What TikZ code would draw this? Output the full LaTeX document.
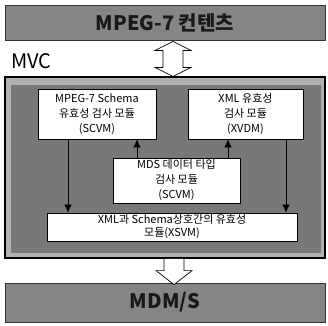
\documentclass[tikz,border=0pt]{standalone}
\usepackage{fontspec}
\setmainfont{Noto Sans CJK KR}
\usetikzlibrary{arrows.meta,calc}
\definecolor{barfill}{HTML}{858585}
\definecolor{framefill}{HTML}{B0B0B0}
\definecolor{innerfill}{HTML}{787878}
\begin{document}
\begin{tikzpicture}[x=1pt,y=-1pt,
  bar/.style={draw=black!80, line width=0.8pt, fill=barfill, minimum width=320pt, inner sep=0pt,
    font=\fontsize{20}{22}\selectfont\bfseries, text=black!90},
  modbox/.style={draw=black, line width=0.9pt, fill=white, inner sep=0pt, align=center,
    font=\fontsize{11}{15}\selectfont},
  arr/.style={-{Latex[length=8pt,width=7.5pt]}, line width=0.6pt},
  blockarr/.style={draw=black, line width=0.7pt, fill=white}
]
\useasboundingbox (0,0) rectangle (328,325);
% bars
\node[bar, minimum height=35pt] (top) at (165,22.5) {MPEG-7 컨텐츠};
\node[bar, minimum height=39pt] (bot) at (165,302.5) {MDM/S};
% MVC container
\node[draw=black, line width=1.2pt, fill=framefill, minimum width=320pt, minimum height=181pt, inner sep=0pt] (mvc) at (165,167.5) {};
\node[fill=innerfill, minimum width=310pt, minimum height=168pt, inner sep=0pt] (inner) at (166,169) {};
\node[anchor=base west, inner sep=0pt, font=\fontsize{20}{22}\selectfont] (mvclbl) at (11,68) {MVC};
% modules
\node[modbox, minimum width=118pt, minimum height=50pt] (scvm) at (97,114) {MPEG-7 Schema\\유효성 검사 모듈\\(SCVM)};
\node[modbox, minimum width=115pt, minimum height=50pt] (xvdm) at (245.5,114) {XML 유효성\\검사 모듈\\(XVDM)};
\node[modbox, minimum width=127pt, minimum height=45pt] (mds) at (176.5,180.5) {MDS 데이터 타입\\검사 모듈\\(SCVM)};
\node[modbox, minimum width=250pt, minimum height=28pt, font=\fontsize{11}{13}\selectfont] (xsvm) at (172,227) {XML과 Schema상호간의 유효성\\모듈(XSVM)};
% connector x positions
\coordinate (lx) at (68,0);
\coordinate (rx) at (286,0);
\coordinate (u1) at (137,0);
\coordinate (u2) at (228,0);
\draw[arr] (scvm.south -| lx) -- (xsvm.north -| lx);
\draw[arr] (xvdm.south -| rx) -- (xsvm.north -| rx);
\draw[arr] (mds.north -| u1) -- (scvm.south -| u1);
\draw[arr] (mds.north -| u2) -- (xvdm.south -| u2);
% block arrows
\coordinate (ax) at (173,0);
\coordinate (ta) at ($(top.south -| ax)+(0,1)$);
\coordinate (tb) at (mvc.north -| ax);
\draw[blockarr] (ta) -- ++(18,9) -- ++(-8,0) -- ($(tb)+(10,-9)$) -- ++(8,0) -- (tb)
  -- ++(-18,-9) -- ++(8,0) -- ($(ta)+(-10,9)$) -- ++(-8,0) -- cycle;
\coordinate (bx) at (174,0);
\coordinate (ba) at (mvc.south -| bx);
\coordinate (bb) at ($(bot.north -| bx)+(0,2)$);
\draw[blockarr] ($(ba)+(-10,0)$) -- ($(ba)+(10,0)$) -- ($(bb)+(10,-14)$) -- ++(8,0) -- (bb)
  -- ++(-18,-14) -- ++(8,0) -- cycle;
\end{tikzpicture}
\end{document}
